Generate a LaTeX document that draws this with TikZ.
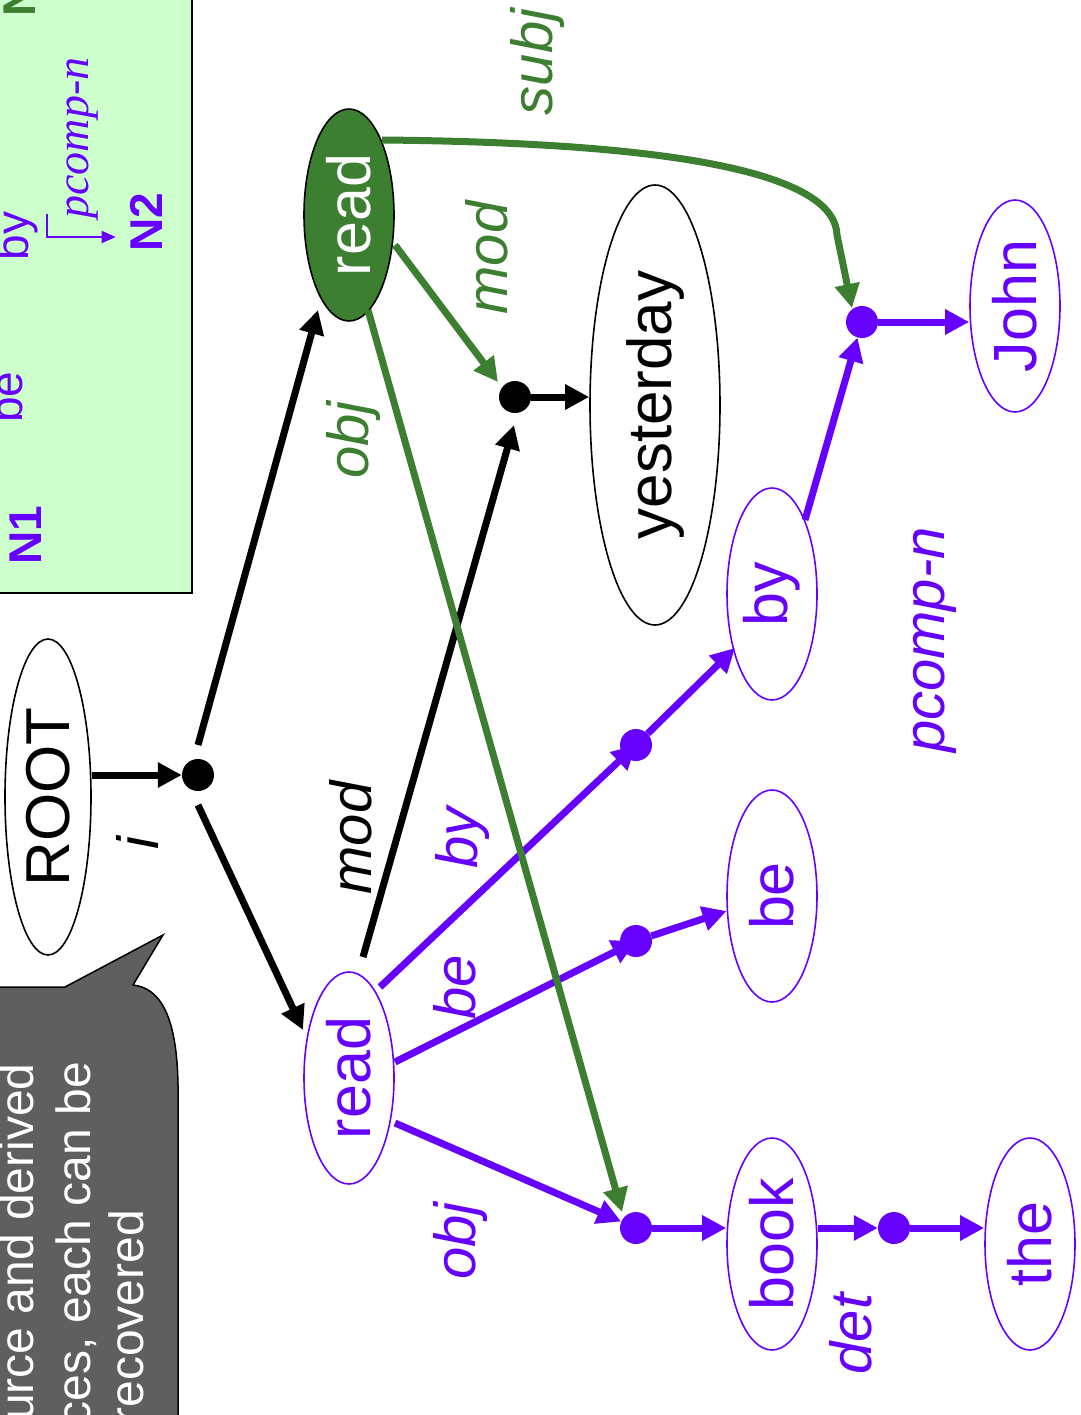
\documentclass[tikz,border=0pt]{standalone}
\usepackage{fontspec}
\setmainfont{Liberation Sans}
\newfontfamily\timesfont{Liberation Serif}
\usetikzlibrary{shapes.geometric,arrows.meta,calc}
\definecolor{pur}{HTML}{6600FF}
\definecolor{grn}{HTML}{3C7F30}
\definecolor{boxgrn}{HTML}{CCFFCC}
\definecolor{callgray}{HTML}{5F5F5F}
\begin{document}
\begin{tikzpicture}[x=1pt,y=-1pt,
  word/.style={ellipse, draw, line width=1.6pt, rotate=90, minimum width=212pt, minimum height=90pt, inner sep=0pt, font=\fontsize{61}{61}\selectfont},
  pword/.style={word, draw=pur, text=pur},
  dot/.style={circle, fill=#1, minimum size=32pt, inner sep=0pt},
  dot/.default=black,
  edge/.style={line width=7pt, -{Triangle[length=24pt,width=24pt]}},
  lab/.style={rotate=90, font=\fontsize{58}{58}\selectfont\itshape, inner sep=0pt},
  boxtxt/.style={rotate=90, inner sep=0pt, font=\fontsize{46}{46}\selectfont},
  calltxt/.style={rotate=90, anchor=base east, inner sep=0pt, text=white, font=\fontsize{48}{48}\selectfont},
]
\useasboundingbox (0,0) rectangle (1080,1415);
\clip (0,0) rectangle (1080,1415);

% legend box
\draw[fill=boxgrn, line width=2pt] (-10,-10) rectangle (192,593);
\node[boxtxt, text=pur, font=\fontsize{46}{46}\selectfont\bfseries] (n1) at (26,535) {N1};
\node[boxtxt, anchor=base, text=pur] (bbe) at (23,397) {be};
\node[boxtxt, anchor=base, text=pur] (bby) at (28,236) {by};
\node[boxtxt, text=pur, font=\fontsize{46}{46}\selectfont\bfseries] (n2) at (146,222) {N2};
\node[boxtxt, anchor=base west, text=grn, font=\fontsize{46}{46}\selectfont\bfseries] (n3) at (35,17) {N};
\node[boxtxt, text=pur, font=\fontsize{46}{46}\timesfont\itshape] (bpc) at (83,138) {pcomp-n};
\draw[pur, line width=1.5pt, -{Triangle[length=14pt,width=12pt]}]
  ($(bby.base)+(19,-22)$) -- ($(bby.base)+(19,1)$) -- ($(n2.north |- bby.base)+(-14,1)$);

% callout
\fill[callgray, draw=black, line width=1.5pt] (-10,987) -- (65,987) -- (163,935) -- (133,985)
  .. controls (162,988) and (177,1020) .. (178,1085) -- (178,1425) -- (-10,1425) -- cycle;
\node[calltxt] (c1) at (33,1063) {urce and derived};
\node[calltxt] (c2) at (90,1062) {ces, each can be};
\node[calltxt] (c3) at (143,1210) {recovered};

% word nodes
\node[word, minimum width=316pt, minimum height=86pt, font=\fontsize{62}{62}\selectfont] (root) at (48,797) {ROOT};
\node[word, fill=grn, text=white] (readg) at (349,215) {read};
\node[pword] (readp) at (349,1078) {read};
\node[word, minimum width=440pt, minimum height=130pt, font=\fontsize{62}{62}\selectfont] (yest) at (655,405) {yesterday};
\node[pword] (by) at (772,594) {by};
\node[pword] (be) at (772,896) {be};
\node[pword] (book) at (772,1244) {book};
\node[pword] (john) at (1015,306) {John};
\node[pword] (the) at (1030,1244) {the};

% dots
\node[dot] (d1) at (198,775) {};
\node[dot] (d2) at (515,397) {};
\node[dot=pur] (djohn) at (862,322) {};
\node[dot=pur] (dby) at (636,745) {};
\node[dot=pur] (dbe) at (636,941) {};
\node[dot=pur] (dobj) at (636,1228) {};
\node[dot=pur] (ddet) at (894,1228) {};

% purple edges
\draw[edge, pur] ($(readp)+(31,-91)$) -- (dby.center);
\draw[edge, pur] (dby) -- ($(by)+(-37,54)$);
\draw[edge, pur] ($(readp)+(46,-16)$) -- (dbe.center);
\draw[edge, pur] (dbe) -- (be);
\draw[edge, pur] ($(readp)+(46,45)$) -- (dobj);
\draw[edge, pur] (dobj) -- (dobj -| book.north);
\draw[edge, pur] (ddet -| book.south) -- (ddet);
\draw[edge, pur] (ddet) -- (ddet -| the.north);
\draw[edge, pur] ($(by)+(33,-74)$) -- (djohn);
\draw[edge, pur] (djohn) -- (djohn -| john.north);

% black edges
\draw[edge] (d1 -| root.south) -- (d1);
\draw[edge] ($(d1)+(0,-30)$) -- ($(readg)+(-31,95)$);
\draw[edge] ($(d1)+(0,30)$) -- ($(readp)+(-46,-48)$);
\draw[edge] ($(readp)+(14,-121)$) -- ($(d2)+(-1,28)$);
\draw[edge] (d2) -- (d2 -| yest.north);

% green edges
\draw[edge, grn] ($(readg)+(46,30)$) -- ($(d2)+(-17,-15)$);
\draw[edge, grn] ($(readg)+(19,95)$) -- ($(dobj)+(-14,-16)$);
\coordinate (subjbend) at (837,235);
\draw[edge, grn] ($(readg)+(33,-75)$) .. controls (700,143) and (835,178) .. (subjbend) -- ($(djohn)+(-10,-14)$);

% labels
\node[lab] (li) at (137,843) {i};
\node[lab] (lmodk) at (351,838) {mod};
\node[lab, text=pur] (lby) at (462,838) {by};
\node[lab, text=pur] (lbe) at (455,987) {be};
\node[lab, text=pur] (lobjp) at (460,1241) {obj};
\node[lab, text=pur] (ldet) at (851,1334) {det};
\node[lab, text=pur] (lpcomp) at (935,640) {pcomp-n};
\node[lab, text=grn] (lobjg) at (353,440) {obj};
\node[lab, text=grn] (lmodg) at (487,258) {mod};
\node[lab, text=grn] (lsubj) at (537,62) {subj};
\end{tikzpicture}
\end{document}
